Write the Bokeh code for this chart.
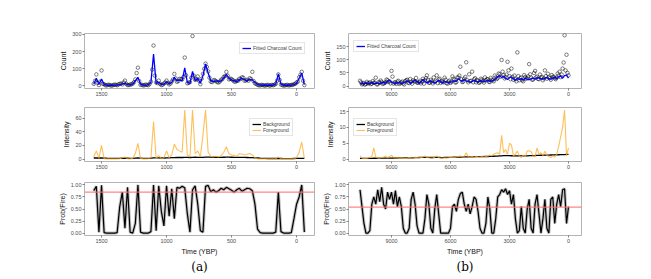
from bokeh.plotting import figure
from bokeh.layouts import row, column
from bokeh.models import Range1d, Span, Legend, LegendItem, Title, FixedTicker
from bokeh.embed import file_html
from bokeh.resources import INLINE

# ---------------- data: panel (a) ----------------
a_time = list(range(1560, -61, -20))
a_fitted = [10, 45, 8, 40, 8, 5, 4, 4, 5, 5,
            8, 12, 15, 8, 6, 10, 30, 50, 10, 5,
            5, 6, 20, 185, 15, 20, 8, 10, 25, 12,
            20, 50, 30, 35, 30, 105, 20, 15, 85, 30,
            45, 15, 60, 128, 75, 30, 25, 30, 25, 30,
            45, 68, 45, 35, 30, 25, 35, 45, 35, 30,
            38, 35, 20, 8, 5, 4, 4, 4, 4, 5,
            10, 70, 10, 4, 4, 4, 5, 8, 15, 45,
            75, 8]
a_count = [12, 67, 5, 90, 10, 3, 6, 2, 8, 4,
           12, 9, 31, 5, 8, 14, 38, 106, 6, 3,
           8, 4, 25, 235, 20, 31, 5, 14, 31, 9,
           26, 70, 24, 41, 38, 165, 15, 22, 290, 35,
           55, 10, 70, 130, 85, 25, 32, 28, 20, 36,
           52, 82, 38, 40, 26, 30, 42, 50, 30, 36,
           45, 82, 15, 6, 3, 5, 2, 6, 3, 4,
           12, 67, 8, 2, 5, 3, 6, 10, 20, 50,
           82, 5]
a_time2 = list(range(1550, -51, -20))
a_count2 = [30, 18, 25, 12, 4, 7, 3, 5, 6, 9,
            14, 20, 12, 5, 9, 22, 75, 28, 7, 4,
            6, 12, 95, 60, 16, 12, 7, 20, 18, 14,
            38, 44, 28, 40, 52, 62, 18, 48, 60, 40,
            30, 42, 100, 110, 48, 22, 34, 22, 26, 40,
            58, 60, 42, 34, 24, 30, 40, 48, 32, 30,
            40, 28, 12, 4, 6, 3, 5, 2, 6, 7,
            30, 35, 5, 3, 6, 4, 6, 12, 25, 65, 30]
a_background = [1.5, 1.6, 1.5, 1.7, 1.4, 1.2, 1.1, 1.0, 1.0, 1.0,
                1.1, 1.2, 1.3, 1.2, 1.1, 1.1, 1.3, 1.5, 1.3, 1.1,
                1.0, 1.0, 1.2, 1.6, 1.6, 1.6, 1.5, 1.5, 1.7, 1.8,
                2.0, 2.2, 2.3, 2.4, 2.3, 2.5, 2.4, 2.3, 2.5, 2.6,
                2.5, 2.4, 2.5, 2.7, 2.8, 2.7, 2.6, 2.6, 2.5, 2.5,
                2.6, 2.7, 2.7, 2.6, 2.5, 2.4, 2.4, 2.5, 2.4, 2.3,
                2.2, 2.1, 1.8, 1.5, 1.2, 1.0, 0.9, 0.8, 0.8, 0.8,
                0.8, 0.9, 0.8, 0.7, 0.7, 0.7, 0.7, 0.8, 0.9, 1.0,
                1.0, 0.9]
a_foreground = [3, 12, 1, 20, 0.5, 0.3, 0.3, 0.3, 0.3, 0.3,
                0.5, 2, 3, 0.5, 0.3, 1, 8, 23, 1, 0.3,
                0.3, 0.5, 2, 55, 1, 5, 0.5, 2, 12, 2,
                6, 22, 14, 12, 10, 72, 6, 3, 72, 8,
                12, 3, 35, 72, 10, 4, 3, 4, 3, 5,
                10, 18, 8, 6, 5, 4, 8, 7, 6, 7,
                8, 6, 2, 0.3, 0.2, 0.2, 0.2, 0.2, 0.2, 0.2,
                0.3, 3, 0.3, 0.2, 0.2, 0.2, 0.2, 0.5, 2, 10,
                25, 1]
a_prob = [0.88, 0.97, 0.02, 0.99, 0.01, 0.0, 0.0, 0.0, 0.0, 0.01,
          0.55, 0.85, 0.1, 0.95, 0.02, 0.0, 0.2, 1.0, 0.02, 0.0,
          0.0, 0.0, 0.03, 1.0, 0.05, 0.98, 0.45, 0.15, 0.98, 0.35,
          0.92, 0.3, 0.95, 0.93, 0.97, 0.94, 0.4, 0.02, 0.9, 0.98,
          0.6, 0.05, 0.02, 0.97, 0.99, 0.86, 0.9, 0.85, 0.88, 0.93,
          0.9, 0.95, 0.92, 0.89, 0.85, 0.9, 0.93, 0.87, 0.9, 0.93,
          0.92, 0.88, 0.6, 0.08, 0.01, 0.0, 0.0, 0.0, 0.0, 0.0,
          0.02, 0.85, 0.03, 0.0, 0.0, 0.0, 0.01, 0.3, 0.6, 0.75,
          1.0, 0.02]
a_threshold = 0.85
a_xticks = [1500, 1000, 500, 0]

# ---------------- data: panel (b) ----------------
b_time = list(range(10600, -1, -100))
b_fitted = [8, 10, 9, 11, 8, 10, 12, 9, 11, 10,
            9, 12, 15, 11, 18, 22, 15, 12, 10, 14,
            12, 10, 12, 15, 20, 14, 12, 18, 22, 16,
            12, 14, 25, 18, 12, 15, 20, 14, 12, 16,
            22, 15, 12, 18, 15, 13, 15, 16, 20, 18,
            28, 22, 18, 25, 20, 17, 15, 18, 22, 17,
            16, 18, 20, 17, 19, 22, 18, 20, 22, 28,
            35, 40, 32, 38, 30, 25, 33, 35, 28, 22,
            30, 25, 28, 22, 30, 26, 24, 28, 30, 26,
            32, 30, 28, 26, 30, 32, 28, 26, 30, 34,
            28, 35, 38, 30, 40, 42, 30]
b_count = [20, 6, 12, 8, 10, 14, 9, 12, 32, 7,
           12, 16, 10, 14, 22, 18, 58, 9, 13, 17,
           8, 14, 10, 19, 24, 11, 16, 22, 18, 13,
           15, 10, 28, 22, 41, 12, 24, 10, 15, 41,
           25, 12, 16, 32, 11, 17, 12, 37, 24, 15,
           32, 74, 15, 28, 91, 14, 19, 55, 26, 14,
           20, 15, 24, 13, 22, 26, 15, 24, 18, 33,
           30, 45, 100, 42, 34, 93, 38, 67, 24, 26,
           129, 22, 33, 18, 35, 30, 84, 32, 25, 58,
           36, 26, 32, 22, 60, 28, 33, 24, 35, 30,
           32, 40, 34, 67, 195, 120, 41]
b_time2 = list(range(10550, 0, -100))
b_count2 = [14, 9, 5, 16, 11, 7, 19, 13, 6, 15,
            21, 8, 12, 25, 16, 10, 36, 14, 8, 20,
            11, 17, 6, 22, 13, 27, 9, 18, 31, 12,
            20, 16, 9, 30, 24, 13, 18, 33, 20, 11,
            28, 19, 14, 24, 9, 21, 16, 28, 13, 33,
            40, 26, 17, 35, 22, 45, 20, 14, 30, 23,
            12, 28, 19, 33, 26, 16, 31, 22, 40, 27,
            48, 36, 55, 29, 44, 60, 26, 35, 40, 18,
            38, 30, 22, 42, 28, 37, 45, 24, 50, 33,
            27, 44, 35, 29, 38, 47, 30, 42, 36, 26,
            48, 55, 44, 90, 60, 50]
b_background = [0.2, 0.2, 0.2, 0.22, 0.22, 0.23, 0.24, 0.25, 0.25, 0.26,
                0.27, 0.28, 0.28, 0.29, 0.3, 0.3, 0.31, 0.32, 0.32, 0.33,
                0.34, 0.35, 0.35, 0.36, 0.37, 0.38, 0.38, 0.4, 0.42, 0.45,
                0.48, 0.5, 0.5, 0.5, 0.52, 0.5, 0.48, 0.48, 0.5, 0.52,
                0.5, 0.48, 0.47, 0.5, 0.52, 0.55, 0.55, 0.57, 0.6, 0.6,
                0.62, 0.63, 0.64, 0.66, 0.66, 0.68, 0.7, 0.7, 0.72, 0.75,
                0.76, 0.75, 0.76, 0.78, 0.8, 0.8, 0.82, 0.85, 0.88, 0.9,
                0.95, 1.0, 1.02, 1.05, 1.05, 1.06, 1.05, 1.04, 1.03, 1.02,
                1.0, 1.0, 0.98, 0.98, 1.0, 1.02, 1.05, 1.08, 1.1, 1.12,
                1.15, 1.18, 1.2, 1.2, 1.22, 1.25, 1.25, 1.28, 1.3, 1.3,
                1.32, 1.35, 1.38, 1.4, 1.42, 1.45, 1.48]
b_foreground = [1.0, 0.3, 0.2, 0.2, 0.3, 0.5, 0.8, 3.5, 0.6, 0.4,
                0.3, 0.5, 0.6, 1.0, 0.4, 0.8, 1.2, 0.5, 0.3, 0.4,
                0.3, 0.4, 0.3, 0.2, 0.3, 0.5, 0.4, 0.3, 0.6, 0.5,
                0.4, 0.5, 0.6, 1.0, 0.5, 0.4, 0.3, 0.4, 0.6, 1.0,
                0.5, 0.3, 0.3, 0.4, 0.3, 0.4, 0.5, 0.6, 0.5, 0.7,
                0.8, 1.0, 0.6, 0.9, 2.0, 0.7, 0.6, 0.8, 0.5, 0.9,
                0.7, 0.6, 0.8, 1.0, 0.7, 0.9, 1.2, 1.0, 1.5, 1.8,
                2.0, 1.5, 7.5, 2.0, 3.0, 1.5, 5.0, 4.5, 1.0, 1.5,
                2.5, 1.0, 0.5, 1.2, 0.8, 2.5, 2.6, 2.4, 1.0, 0.8,
                3.5, 1.5, 2.0, 1.0, 2.5, 1.2, 0.8, 0.5, 1.0, 0.6,
                1.5, 4.0, 7.0, 10.0, 15.5, 1.0, 3.5]
b_prob = [0.9, 0.55, 0.2, 0.0, 0.0, 0.05, 0.6, 0.75, 0.6, 0.9,
          0.65, 0.95, 0.6, 0.5, 0.85, 0.7, 0.85, 0.6, 0.88, 0.55,
          0.75, 0.55, 0.1, 0.0, 0.0, 0.1, 0.7, 0.85, 0.6, 0.15,
          0.0, 0.0, 0.0, 0.3, 0.8, 0.6, 0.1, 0.0, 0.5, 0.8,
          0.4, 0.0, 0.0, 0.0, 0.0, 0.0, 0.1, 0.55, 0.6, 0.45,
          0.7, 0.82, 0.85, 0.6, 0.45, 0.6, 0.4, 0.55, 0.75, 0.7,
          0.45, 0.1, 0.0, 0.0, 0.2, 0.75, 0.5, 0.0, 0.0, 0.3,
          0.75, 0.8, 0.9, 0.85, 0.92, 0.8, 0.88, 0.6, 0.8, 0.3,
          0.0, 0.05, 0.55, 0.1, 0.0, 0.5, 0.7, 0.1, 0.0, 0.6,
          0.8, 0.4, 0.0, 0.3, 0.7, 0.1, 0.0, 0.7, 0.75, 0.2,
          0.6, 0.8, 0.55, 0.9, 0.92, 0.2, 0.55]
b_threshold = 0.54
b_xticks = [9000, 6000, 3000, 0]

FONT = "Liberation Sans"
ORANGE = "#FFAA22"


def make_fig(xr, yr, left, right, top, bottom, fw, fh, yticks, xticks, ylabel, xlabel=None):
    p = figure(frame_width=fw, frame_height=fh, x_range=Range1d(*xr), y_range=Range1d(*yr),
               output_backend="svg", toolbar_location=None, title=None,
               min_border_left=left, min_border_right=right,
               min_border_top=top, min_border_bottom=bottom)
    p.outline_line_color = "#b3b3b3"
    p.outline_line_width = 1
    p.xgrid.visible = False
    p.ygrid.visible = False
    p.background_fill_color = "white"
    p.border_fill_color = "white"
    p.xaxis.ticker = FixedTicker(ticks=xticks)
    p.yaxis.ticker = FixedTicker(ticks=yticks)
    for ax in p.axis:
        ax.axis_line_color = None
        ax.major_tick_line_color = "#333333"
        ax.major_tick_line_width = 0.6
        ax.major_tick_out = 2
        ax.major_tick_in = 0
        ax.minor_tick_line_color = None
        ax.major_label_text_font = FONT
        ax.major_label_text_font_size = "5.5px"
        ax.major_label_text_color = "#4d4d4d"
        ax.major_label_standoff = 1
        ax.axis_label_text_font = FONT
        ax.axis_label_text_font_size = "7px"
        ax.axis_label_text_font_style = "normal"
        ax.axis_label_text_color = "#111111"
        ax.axis_label_standoff = 2
    p.yaxis.axis_label = ylabel
    if xlabel:
        p.xaxis.axis_label = xlabel
    return p


def style_legend(leg):
    leg.label_text_font = FONT
    leg.label_text_font_size = "5px"
    leg.glyph_width = 9
    leg.glyph_height = 6
    leg.label_height = 6
    leg.label_standoff = 2
    leg.spacing = 0
    leg.padding = 2
    leg.margin = 0
    leg.border_line_color = "#cccccc"
    leg.border_line_width = 0.8
    leg.background_fill_color = "white"
    leg.background_fill_alpha = 1


def build(time, fitted, count, time2, count2, bg, fg, prob, thr, xr, xticks, cyr, cyticks, iyr, iyticks,
          left, right, fw, leg1, leg2, tag):
    p1 = make_fig(xr, cyr, left, right, 33, 14, fw, 55, cyticks, xticks, "Count")
    p1.scatter(time, count, marker="circle", size=3.5, fill_color=None, line_color="black", line_width=0.5)
    p1.scatter(time2, count2, marker="circle", size=3.5, fill_color=None, line_color="black", line_width=0.5)
    r1 = p1.line(time, fitted, line_color="#0000FF", line_width=1.3)
    lg1 = Legend(items=[LegendItem(label="Fitted Charcoal Count", renderers=[r1])], location=leg1)
    style_legend(lg1)
    p1.add_layout(lg1)

    p2 = make_fig(xr, iyr, left, right, 5, 15, fw, 54, iyticks, xticks, "Intensity")
    rb = p2.line(time, bg, line_color="black", line_width=1.3)
    rf = p2.line(time, fg, line_color=ORANGE, line_width=1.1, line_alpha=0.75)
    lg2 = Legend(items=[LegendItem(label="Background", renderers=[rb]),
                        LegendItem(label="Foreground", renderers=[rf])], location=leg2)
    style_legend(lg2)
    p2.add_layout(lg2)

    p3 = make_fig(xr, (-0.05, 1.05), left, right, 6, 14, fw, 53, [0, 0.25, 0.5, 0.75, 1.0], xticks,
                  "Prob(Fire)", "Time (YBP)")
    p3.yaxis.major_label_overrides = {0: "0.00", 0.25: "0.25", 0.5: "0.50", 0.75: "0.75", 1.0: "1.00"}
    p3.line(time, prob, line_color="#9a9a9a", line_width=3.2, line_alpha=0.6)
    p3.line(time, prob, line_color="black", line_width=1.2)
    p3.add_layout(Span(location=thr, dimension="width", line_color="#FF7070", line_width=1.3, line_alpha=0.85))
    t = Title(text=tag, align="center", text_font="DejaVu Serif", text_font_size="12px",
              text_font_style="normal", text_color="black", standoff=0)
    p3.add_layout(t, "below")
    return column(p1, p2, p3, spacing=0)


col_a = build(a_time, a_fitted, a_count, a_time2, a_count2, a_background, a_foreground, a_prob, a_threshold,
              (1631, -138), a_xticks, (-15, 305), [0, 100, 200, 300], (-3.6, 75.6), [0, 20, 40, 60],
              84, 5, 230, (155, 34), (165, 25), "(a)")
col_b = build(b_time, b_fitted, b_count, b_time2, b_count2, b_background, b_foreground, b_prob, b_threshold,
              (11186, -661), b_xticks, (-9.6, 201.6), [0, 50, 100, 150], (-0.78, 16.3), [0, 5, 10, 15],
              28, 10, 233, (5, 36), (5, 25), "(b)")

layout = row(col_a, col_b, spacing=0)
open("out.html", "w").write(file_html(layout, INLINE))
